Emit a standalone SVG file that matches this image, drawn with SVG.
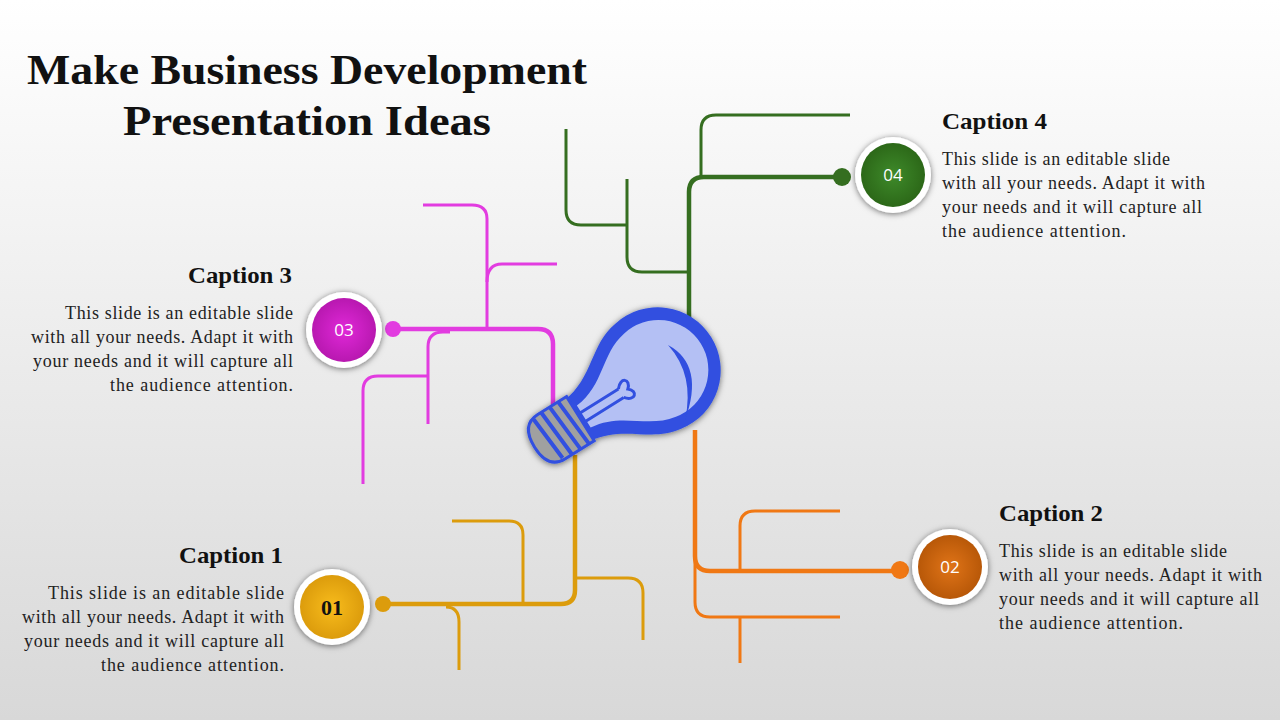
<svg xmlns="http://www.w3.org/2000/svg" width="1280" height="720" viewBox="0 0 1280 720">
<defs>
<linearGradient id="bg" x1="0" y1="0" x2="0" y2="1"><stop offset="0" stop-color="#ffffff"/><stop offset="1" stop-color="#d8d8d8"/></linearGradient>
<radialGradient id="g1"><stop offset="0" stop-color="#f8bc1c"/><stop offset="1" stop-color="#dc9c0c"/></radialGradient>
<radialGradient id="g2"><stop offset="0" stop-color="#e07418"/><stop offset="1" stop-color="#b85808"/></radialGradient>
<radialGradient id="g3"><stop offset="0" stop-color="#e028d8"/><stop offset="1" stop-color="#b818b0"/></radialGradient>
<radialGradient id="g4"><stop offset="0" stop-color="#3e8a2a"/><stop offset="1" stop-color="#2c6818"/></radialGradient>
<filter id="sh" x="-30%" y="-30%" width="160%" height="160%"><feDropShadow dx="0" dy="1" stdDeviation="3" flood-color="#000" flood-opacity="0.55"/></filter>
</defs>
<style>
.l{fill:none;stroke-width:3;stroke-linecap:butt}
.m{stroke-width:4.5}
.y{stroke:#dc9c0c}.o{stroke:#f07814}.p{stroke:#e23ce0}.g{stroke:#356e20}
.cap{font-family:"Liberation Serif",serif;font-weight:bold;font-size:24px;fill:#111}
.tx{font-family:"Liberation Serif",serif;font-size:18px;fill:#222}
.num{font-family:"Open Sans",sans-serif;font-size:17px;fill:#fff;text-anchor:middle}
.ttl{font-family:"Liberation Serif",serif;font-weight:bold;font-size:42px;fill:#111;text-anchor:middle}
</style>
<rect width="1280" height="720" fill="url(#bg)"/>
<g id="title"><text class="ttl" x="307" y="84" textLength="560" lengthAdjust="spacingAndGlyphs">Make Business Development</text><text class="ttl" x="307" y="135" textLength="368" lengthAdjust="spacingAndGlyphs">Presentation Ideas</text></g>
<g id="connectors">
<path class="l m y" d="M575,455 V590 Q575,604 561,604 H383"/>
<path class="l y" d="M523,604 V535 Q523,521 509,521 H452"/>
<path class="l y" d="M446,607 Q459,607 459,622 V670"/>
<path class="l y" d="M575,578 H628 Q643,578 643,593 V640"/>
<circle cx="383" cy="604" r="8" fill="#dc9c0c"/>
<path class="l m o" d="M695,430 V556 Q695,571 710,571 H900"/>
<path class="l o" d="M740,571 V526 Q740,511 755,511 H840"/>
<path class="l o" d="M695,555 V602 Q695,617 710,617 H840"/>
<path class="l o" d="M740,617 V663"/>
<circle cx="900" cy="570" r="9" fill="#f07814"/>
<path class="l m p" d="M393,329 H538 Q553,329 553,344 V410"/>
<path class="l p" d="M487,329 V219 Q487,205 472,205 H423"/>
<path class="l p" d="M487,282 Q487,264 502,264 H557"/>
<path class="l p" d="M450,332 H443 Q428,332 428,347 V424"/>
<path class="l p" d="M428,376 H378 Q363,376 363,391 V484"/>
<circle cx="393" cy="329" r="8" fill="#e23ce0"/>
<path class="l m g" d="M689,325 V192 Q689,177 704,177 H842"/>
<path class="l g" d="M701,177 V130 Q701,115 716,115 H850"/>
<path class="l g" d="M689,272 H642 Q627,272 627,257 V179"/>
<path class="l g" d="M627,225 H581 Q566,225 566,210 V129"/>
<circle cx="842" cy="177" r="9" fill="#356e20"/>
</g>
<g id="bulb" filter="url(#sh)">
<g transform="translate(655,372) rotate(58)">
<path d="M-62,8 A63,63 0 1 1 62,8 C58,40 28,55 24,92 H-24 C-28,55 -58,40 -62,8 Z" fill="#3050e0"/>
<path d="M-49,6 A50,50 0 1 1 49,6 C44,36 16,50 13,84 H-13 C-16,50 -44,36 -49,6 Z" fill="#b4c0f4"/>
<path d="M-5,90 V40 M5,90 V40" stroke="#3050e0" stroke-width="3" fill="none"/>
<path d="M-5,40 c-10,-8 -2,-16 5,-8 c7,-8 15,0 5,8" stroke="#3050e0" stroke-width="3" fill="none"/>
<path d="M-26,88 H26 V122 Q26,142 0,142 Q-26,142 -26,122 Z" fill="#a0a0a0" stroke="#3050e0" stroke-width="3"/>
<path d="M-26,98 L26,94 M-26,108 L26,104 M-26,118 L26,114 M-24,128 L24,124" stroke="#3050e0" stroke-width="4"/>
</g>
<path d="M668,345 Q705,365 685,420 Q695,375 668,345 Z" fill="#3050e0"/>
</g>
<g id="n1"><circle cx="332" cy="607" r="38" fill="#fff" filter="url(#sh)"/><circle cx="332" cy="607" r="32" fill="url(#g1)"/><text class="num" x="332" y="615" style="fill:#111;font-family:'Liberation Serif',serif;font-weight:bold;font-size:22px">01</text>
<text class="cap" x="283" y="563" text-anchor="end" textLength="104" lengthAdjust="spacingAndGlyphs">Caption 1</text>
<text class="tx" text-anchor="end"><tspan x="284" y="599" textLength="236">This slide is an editable slide</tspan><tspan x="284" y="623" textLength="262">with all your needs. Adapt it with</tspan><tspan x="284" y="647" textLength="260">your needs and it will capture all</tspan><tspan x="284" y="671" textLength="183">the audience attention.</tspan></text></g>
<g id="n2"><circle cx="950" cy="567" r="38" fill="#fff" filter="url(#sh)"/><circle cx="950" cy="567" r="32" fill="url(#g2)"/><text class="num" x="950" y="573">02</text>
<text class="cap" x="999" y="521" textLength="104" lengthAdjust="spacingAndGlyphs">Caption 2</text>
<text class="tx"><tspan x="999" y="557" textLength="228">This slide is an editable slide</tspan><tspan x="999" y="581" textLength="263">with all your needs. Adapt it with</tspan><tspan x="999" y="605" textLength="260">your needs and it will capture all</tspan><tspan x="999" y="629" textLength="184">the audience attention.</tspan></text></g>
<g id="n3"><circle cx="344" cy="330" r="38" fill="#fff" filter="url(#sh)"/><circle cx="344" cy="330" r="32" fill="url(#g3)"/><text class="num" x="344" y="336">03</text>
<text class="cap" x="292" y="283" text-anchor="end" textLength="104" lengthAdjust="spacingAndGlyphs">Caption 3</text>
<text class="tx" text-anchor="end"><tspan x="293" y="319" textLength="228">This slide is an editable slide</tspan><tspan x="293" y="343" textLength="262">with all your needs. Adapt it with</tspan><tspan x="293" y="367" textLength="260">your needs and it will capture all</tspan><tspan x="293" y="391" textLength="183">the audience attention.</tspan></text></g>
<g id="n4"><circle cx="893" cy="175" r="38" fill="#fff" filter="url(#sh)"/><circle cx="893" cy="175" r="32" fill="url(#g4)"/><text class="num" x="893" y="181">04</text>
<text class="cap" x="942" y="129" textLength="105" lengthAdjust="spacingAndGlyphs">Caption 4</text>
<text class="tx"><tspan x="942" y="165" textLength="228">This slide is an editable slide</tspan><tspan x="942" y="189" textLength="263">with all your needs. Adapt it with</tspan><tspan x="942" y="213" textLength="260">your needs and it will capture all</tspan><tspan x="942" y="237" textLength="184">the audience attention.</tspan></text></g>
</svg>
